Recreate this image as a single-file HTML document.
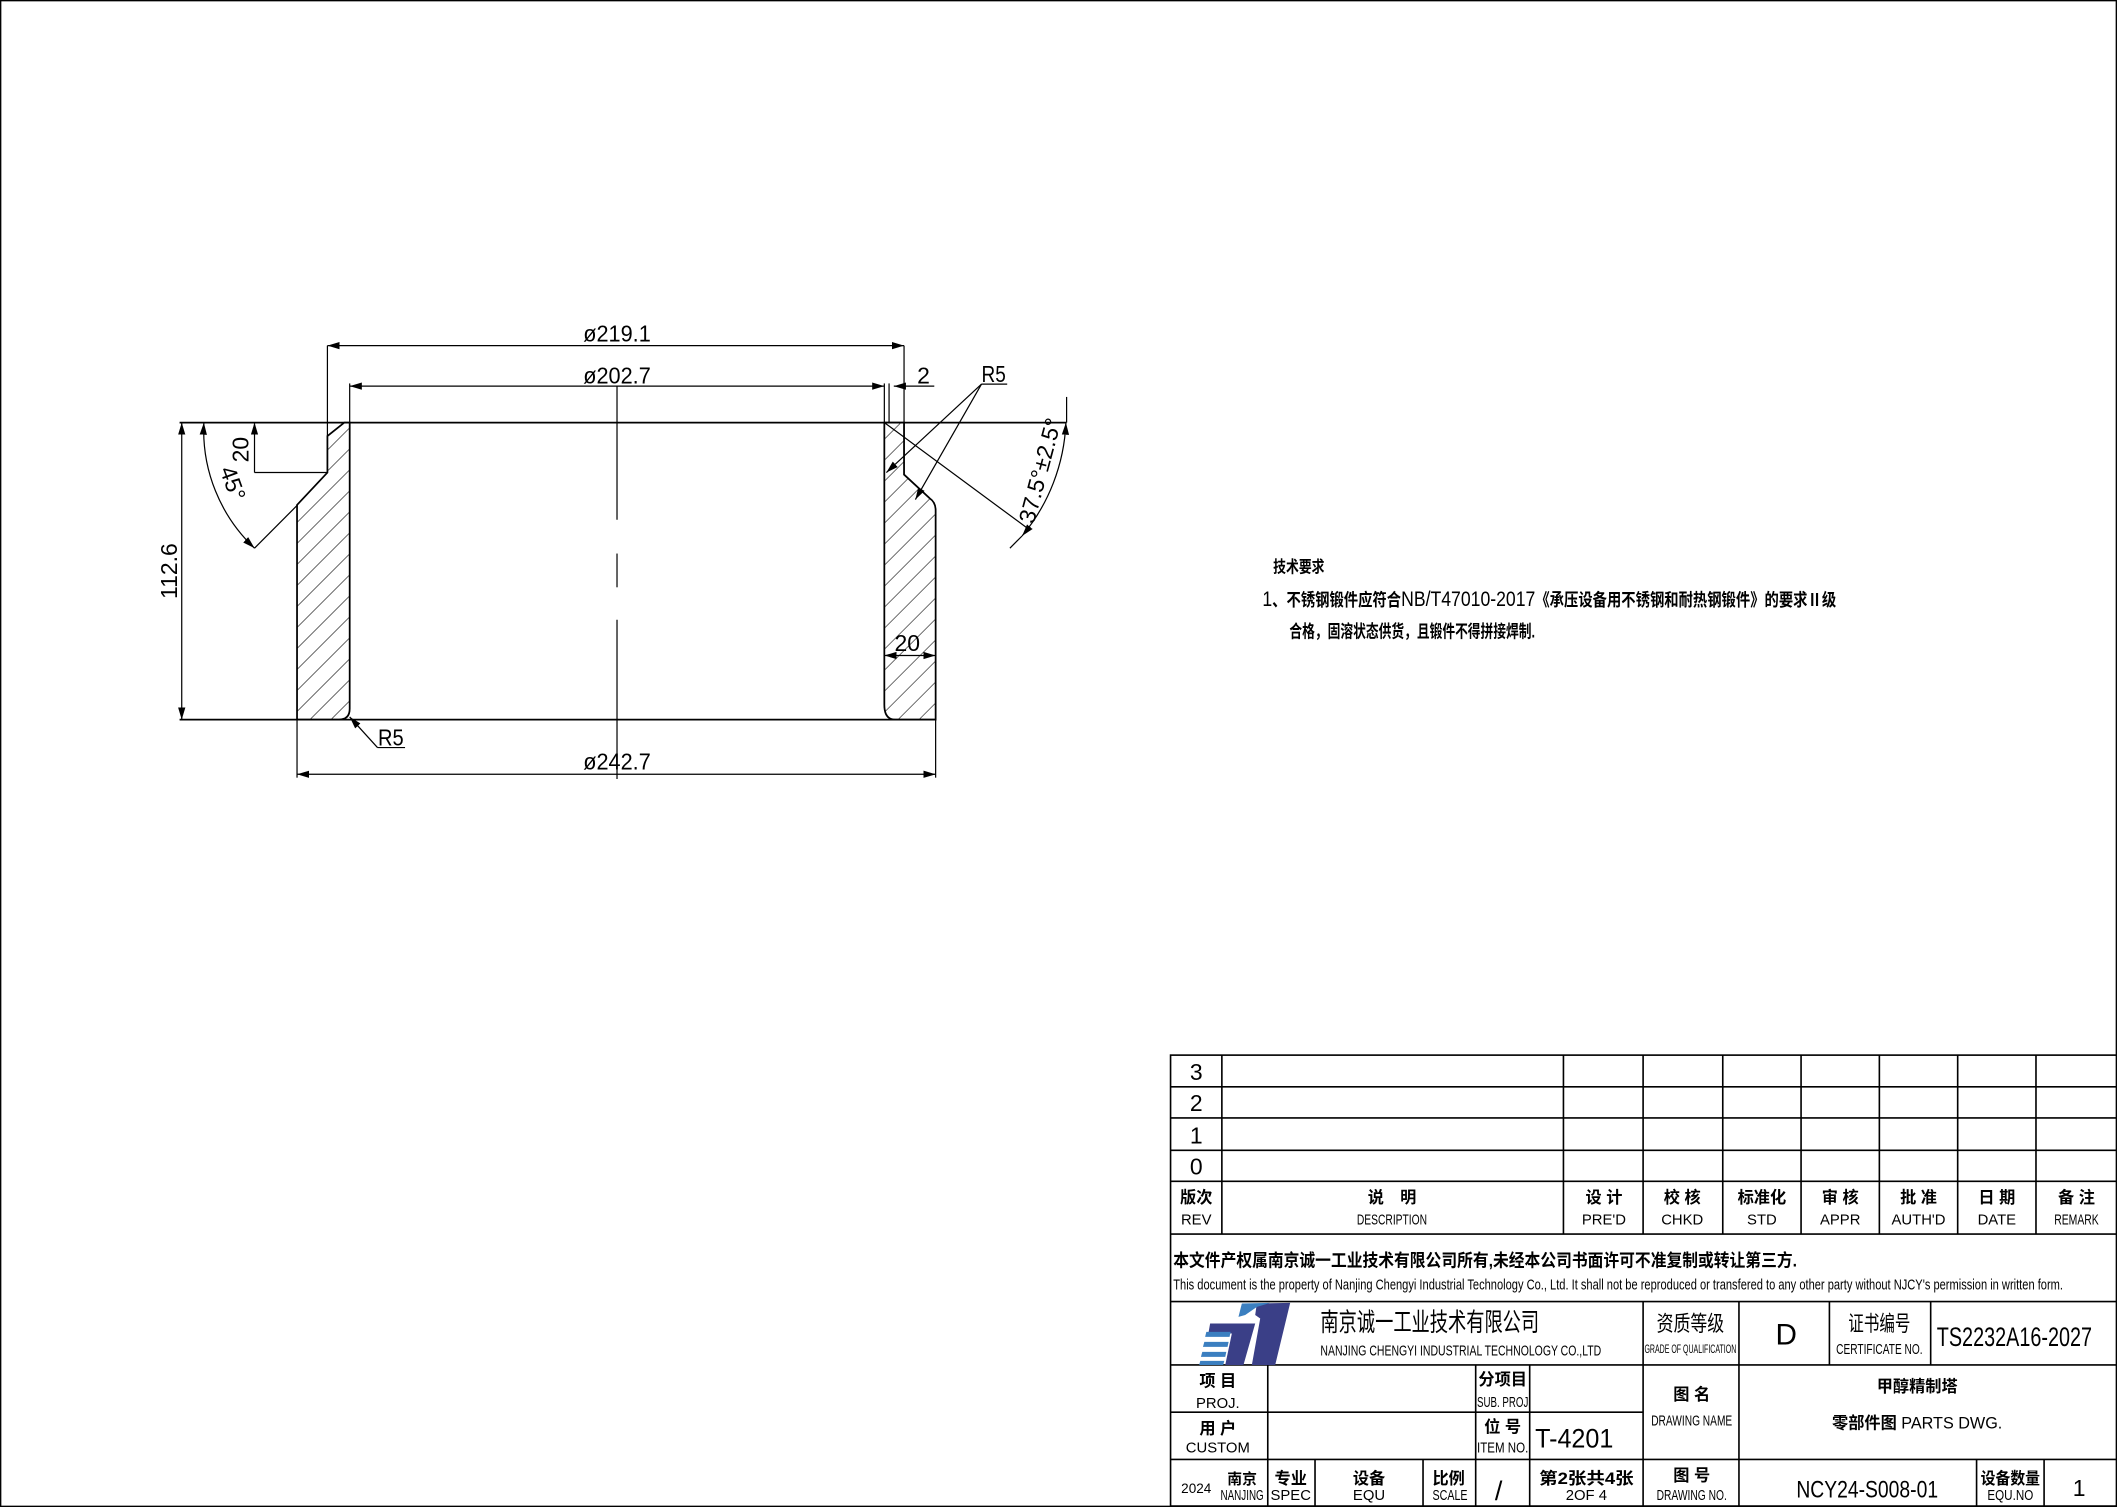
<!DOCTYPE html>
<html><head><meta charset="utf-8"><style>
html,body{margin:0;padding:0;background:#fff;}
svg{display:block;}
text{font-family:"Liberation Sans","Noto Sans CJK SC",sans-serif;fill:#000;}
</style></head><body>
<svg width="2117" height="1507" viewBox="0 0 1568 1116.2" xmlns="http://www.w3.org/2000/svg">
<defs>
<pattern id="h" patternUnits="userSpaceOnUse" width="11" height="11" patternTransform="rotate(45)">
<line x1="0" y1="0" x2="0" y2="11" stroke="#000" stroke-width="0.8"/>
</pattern>
<marker id="a" viewBox="0 0 10 10" refX="10" refY="5" markerWidth="9" markerHeight="9" orient="auto-start-reverse" markerUnits="userSpaceOnUse">
<path d="M0,2 L10,5 L0,8 z" fill="#000"/>
</marker>
</defs>
<rect x="0.5" y="0.5" width="1567" height="1115.2" fill="none" stroke="#000" stroke-width="1"/>

<g stroke="#000" fill="none" stroke-width="1.3">
<path d="M255,313 L259,313 L259,525 Q259,533 251,533 L220,533 L220,374 L242.5,350 L242.5,323 Z" fill="url(#h)"/>
<path d="M655,313 L669.6,313 L669.6,351.5 L688.5,369 Q693,372 693,378 L693,533 L663,533 Q655,533 655,522 Z" fill="url(#h)"/>
<line x1="133" y1="313" x2="790" y2="313"/>
<line x1="133" y1="533" x2="693" y2="533"/>
</g>
<g stroke="#000" fill="none" stroke-width="0.9">
<line x1="457" y1="286" x2="457" y2="385"/>
<line x1="457" y1="410" x2="457" y2="435"/>
<line x1="457" y1="459" x2="457" y2="577"/>
<line x1="242.5" y1="256" x2="242.5" y2="323"/>
<line x1="669.6" y1="256" x2="669.6" y2="352"/>
<line x1="242.5" y1="256" x2="669.6" y2="256" marker-start="url(#a)" marker-end="url(#a)"/>
<line x1="259" y1="284" x2="259" y2="313"/>
<line x1="655" y1="284" x2="655" y2="313"/>
<line x1="658.5" y1="284" x2="658.5" y2="313"/>
<line x1="259" y1="286" x2="655" y2="286" marker-start="url(#a)" marker-end="url(#a)"/>
<line x1="662" y1="286" x2="692" y2="286" marker-start="url(#a)"/>
<line x1="727" y1="284.5" x2="746" y2="284.5"/>
<line x1="727" y1="284.5" x2="656.5" y2="350" marker-end="url(#a)"/>
<line x1="727" y1="284.5" x2="678" y2="370" marker-end="url(#a)"/>
<line x1="655" y1="313" x2="762" y2="392"/>
<path d="M789.5,313 A140,140 0 0 1 757,397" marker-start="url(#a)" marker-end="url(#a)"/>
<line x1="790" y1="294" x2="790" y2="313"/>
<line x1="757" y1="397" x2="748" y2="406"/>
<line x1="655" y1="485.5" x2="693" y2="485.5" marker-start="url(#a)" marker-end="url(#a)"/>
<line x1="134.6" y1="313" x2="134.6" y2="533" marker-start="url(#a)" marker-end="url(#a)"/>
<line x1="188.5" y1="350" x2="242.5" y2="350"/>
<line x1="188.5" y1="350" x2="188.5" y2="313" marker-end="url(#a)"/>
<line x1="220.4" y1="374" x2="188.5" y2="406"/>
<path d="M151,313 A120,120 0 0 0 188.5,406" marker-start="url(#a)" marker-end="url(#a)"/>
<line x1="220" y1="533" x2="220" y2="576"/>
<line x1="693" y1="533" x2="693" y2="576"/>
<line x1="220" y1="573.5" x2="693" y2="573.5" marker-start="url(#a)" marker-end="url(#a)"/>
<line x1="279.6" y1="553.7" x2="259" y2="531" marker-end="url(#a)"/>
<line x1="279.6" y1="553.7" x2="300" y2="553.7"/>
</g>
<g font-size="17">
<text x="457" y="253" text-anchor="middle" textLength="50" lengthAdjust="spacingAndGlyphs">ø219.1</text>
<text x="457" y="284" text-anchor="middle" textLength="50" lengthAdjust="spacingAndGlyphs">ø202.7</text>
<text x="457" y="570" text-anchor="middle" textLength="50" lengthAdjust="spacingAndGlyphs">ø242.7</text>
<text x="684" y="284" text-anchor="middle">2</text>
<text x="727" y="283" textLength="18" lengthAdjust="spacingAndGlyphs">R5</text>
<text x="280" y="552" textLength="19" lengthAdjust="spacingAndGlyphs">R5</text>
<text x="672" y="482" text-anchor="middle">20</text>
<text transform="translate(131,423) rotate(-90)" text-anchor="middle">112.6</text>
<text transform="translate(184,333) rotate(-90)" text-anchor="middle">20</text>
<text transform="translate(167,360) rotate(70)" text-anchor="middle">45°</text>
<text transform="translate(776,350) rotate(-75)" text-anchor="middle">37.5°±2.5°</text>
</g>
<g>
<text x="943" y="424" font-size="12" font-weight="bold" textLength="38" lengthAdjust="spacingAndGlyphs">技术要求</text>
<text x="935" y="449" font-size="16" textLength="425" lengthAdjust="spacingAndGlyphs">1<tspan font-size="13" font-weight="bold">、不锈钢锻件应符合</tspan>NB/T47010-2017<tspan font-size="13" font-weight="bold">《承压设备用不锈钢和耐热钢锻件》的要求Ⅱ级</tspan></text>
<text x="955" y="472" font-size="13" font-weight="bold" textLength="182" lengthAdjust="spacingAndGlyphs">合格，固溶状态供货，且锻件不得拼接焊制.</text>
</g>

<g stroke="#000" stroke-width="1.2" fill="none">
<rect x="867" y="781.5" width="701" height="334"/>
<line x1="867" y1="805" x2="1568" y2="805"/>
<line x1="867" y1="828" x2="1568" y2="828"/>
<line x1="867" y1="852" x2="1568" y2="852"/>
<line x1="867" y1="875" x2="1568" y2="875"/>
<line x1="867" y1="914" x2="1568" y2="914"/>
<line x1="867" y1="964" x2="1568" y2="964"/>
<line x1="867" y1="1011" x2="1568" y2="1011"/>
<line x1="867" y1="1046" x2="1217" y2="1046"/>
<line x1="867" y1="1081" x2="1568" y2="1081"/>
<line x1="905" y1="781.5" x2="905" y2="914"/>
<line x1="1158" y1="781.5" x2="1158" y2="914"/>
<line x1="1217" y1="781.5" x2="1217" y2="914"/>
<line x1="1276" y1="781.5" x2="1276" y2="914"/>
<line x1="1334" y1="781.5" x2="1334" y2="914"/>
<line x1="1392" y1="781.5" x2="1392" y2="914"/>
<line x1="1450" y1="781.5" x2="1450" y2="914"/>
<line x1="1508" y1="781.5" x2="1508" y2="914"/>
<line x1="1217" y1="964" x2="1217" y2="1116"/>
<line x1="1288" y1="964" x2="1288" y2="1116"/>
<line x1="1355" y1="964" x2="1355" y2="1011"/>
<line x1="1430" y1="964" x2="1430" y2="1011"/>
<line x1="939" y1="1011" x2="939" y2="1116"/>
<line x1="1093" y1="1011" x2="1093" y2="1116"/>
<line x1="1133" y1="1011" x2="1133" y2="1116"/>
<line x1="974" y1="1081" x2="974" y2="1116"/>
<line x1="1054" y1="1081" x2="1054" y2="1116"/>
<line x1="1464" y1="1081" x2="1464" y2="1116"/>
<line x1="1514" y1="1081" x2="1514" y2="1116"/>
</g>
<g font-size="17">
<text x="886" y="800" text-anchor="middle">3</text>
<text x="886" y="823" text-anchor="middle">2</text>
<text x="886" y="847" text-anchor="middle">1</text>
<text x="886" y="870" text-anchor="middle">0</text>
</g>
<g font-size="12" font-weight="bold" text-anchor="middle">
<text x="886" y="891">版次</text><text x="1031" y="891">说　明</text><text x="1188" y="891">设 计</text>
<text x="1246" y="891">校 核</text><text x="1305" y="891">标准化</text><text x="1363" y="891">审 核</text>
<text x="1421" y="891">批 准</text><text x="1479" y="891">日 期</text><text x="1538" y="891">备 注</text>
</g>
<g font-size="11" text-anchor="middle">
<text x="886" y="907">REV</text><text x="1031" y="907" textLength="52" lengthAdjust="spacingAndGlyphs">DESCRIPTION</text>
<text x="1188" y="907">PRE'D</text><text x="1246" y="907">CHKD</text><text x="1305" y="907">STD</text>
<text x="1363" y="907">APPR</text><text x="1421" y="907">AUTH'D</text><text x="1479" y="907">DATE</text>
<text x="1538" y="907" textLength="33" lengthAdjust="spacingAndGlyphs">REMARK</text>
</g>
<text x="869" y="938" font-size="13" font-weight="bold" textLength="462" lengthAdjust="spacingAndGlyphs">本文件产权属南京诚一工业技术有限公司所有,未经本公司书面许可不准复制或转让第三方.</text>
<text x="869" y="955" font-size="11" textLength="659" lengthAdjust="spacingAndGlyphs">This document is the property of Nanjing Chengyi Industrial Technology Co., Ltd. It shall not be reproduced or transfered to any other party without NJCY's permission in written form.</text>

<polygon points="896.3,980.3 929.7,980.3 921,1011 907.5,1011 912.4,987.7 895,987.7" fill="#3a3f87"/>
<polygon points="930.9,965.5 955.6,965 944.5,1011 927.2,1011 933.4,976.6 929.7,974" fill="#3a3f87"/>
<polygon points="917.3,975.4 919.8,965.5 940.8,965 931,968 922.3,974" fill="#3b7fc0"/>
<polygon points="893.5,986.5 911.5,986.5 910.7,990.2 892.6,990.2" fill="#3b7fc0"/>
<polygon points="892,993.9 910,993.9 909.2,997.6 891,997.6" fill="#3b7fc0"/>
<polygon points="890.5,1001.3 908.3,1001.3 907.5,1005 889.5,1005" fill="#3b7fc0"/>
<polygon points="889,1008 906.8,1008 906,1011 888.2,1011" fill="#3b7fc0"/>

<text x="978" y="986" font-size="19" textLength="162" lengthAdjust="spacingAndGlyphs">南京诚一工业技术有限公司</text>
<text x="978" y="1004" font-size="11" textLength="208" lengthAdjust="spacingAndGlyphs">NANJING CHENGYI INDUSTRIAL TECHNOLOGY CO.,LTD</text>
<text x="1252" y="986" font-size="16" text-anchor="middle" textLength="50" lengthAdjust="spacingAndGlyphs">资质等级</text>
<text x="1252" y="1002" font-size="9" text-anchor="middle" textLength="68" lengthAdjust="spacingAndGlyphs">GRADE OF QUALIFICATION</text>
<text x="1323" y="996" font-size="22" text-anchor="middle">D</text>
<text x="1392" y="986" font-size="16" text-anchor="middle" textLength="46" lengthAdjust="spacingAndGlyphs">证书编号</text>
<text x="1392" y="1003" font-size="11" text-anchor="middle" textLength="64" lengthAdjust="spacingAndGlyphs">CERTIFICATE NO.</text>
<text x="1492" y="997" font-size="20" text-anchor="middle" textLength="115" lengthAdjust="spacingAndGlyphs">TS2232A16-2027</text>

<g font-size="12" font-weight="bold" text-anchor="middle">
<text x="902" y="1027">项 目</text><text x="902" y="1062">用 户</text>
<text x="1113" y="1026" textLength="36" lengthAdjust="spacingAndGlyphs">分项目</text><text x="1113" y="1061">位 号</text>
<text x="1253" y="1037">图 名</text><text x="1253" y="1097">图 号</text>
<text x="1420" y="1031">甲醇精制塔</text>
<text x="956" y="1099">专业</text><text x="1014" y="1099">设备</text><text x="1073" y="1099">比例</text>
<text x="1175" y="1099" textLength="70" lengthAdjust="spacingAndGlyphs">第2张共4张</text><text x="1489" y="1099" textLength="44" lengthAdjust="spacingAndGlyphs">设备数量</text>
<text x="920" y="1099" font-size="11">南京</text>
</g>
<g font-size="11" text-anchor="middle">
<text x="902" y="1043">PROJ.</text><text x="902" y="1076">CUSTOM</text>
<text x="1113" y="1042" textLength="38" lengthAdjust="spacingAndGlyphs">SUB. PROJ</text>
<text x="1113" y="1076" textLength="38" lengthAdjust="spacingAndGlyphs">ITEM NO.</text>
<text x="1253" y="1056" textLength="60" lengthAdjust="spacingAndGlyphs">DRAWING NAME</text>
<text x="1253" y="1111" textLength="52" lengthAdjust="spacingAndGlyphs">DRAWING NO.</text>
<text x="956" y="1111">SPEC</text><text x="1014" y="1111">EQU</text><text x="1074" y="1111" textLength="26" lengthAdjust="spacingAndGlyphs">SCALE</text>
<text x="1175" y="1111">2OF 4</text><text x="1489" y="1111" textLength="34" lengthAdjust="spacingAndGlyphs">EQU.NO</text>
<text x="920" y="1111" textLength="32" lengthAdjust="spacingAndGlyphs">NANJING</text>
<text x="886" y="1106" font-size="10">2024</text>
</g>
<text x="1420" y="1058" font-size="12" text-anchor="middle"><tspan font-weight="bold">零部件图</tspan>  PARTS DWG.</text>
<text x="1166" y="1072" font-size="20" text-anchor="middle" textLength="58" lengthAdjust="spacingAndGlyphs">T-4201</text>
<text x="1110" y="1111" font-size="20" text-anchor="middle">/</text>
<text x="1383" y="1109" font-size="18" text-anchor="middle" textLength="105" lengthAdjust="spacingAndGlyphs">NCY24-S008-01</text>
<text x="1540" y="1108" font-size="17" text-anchor="middle">1</text>
</svg>
</body></html>
